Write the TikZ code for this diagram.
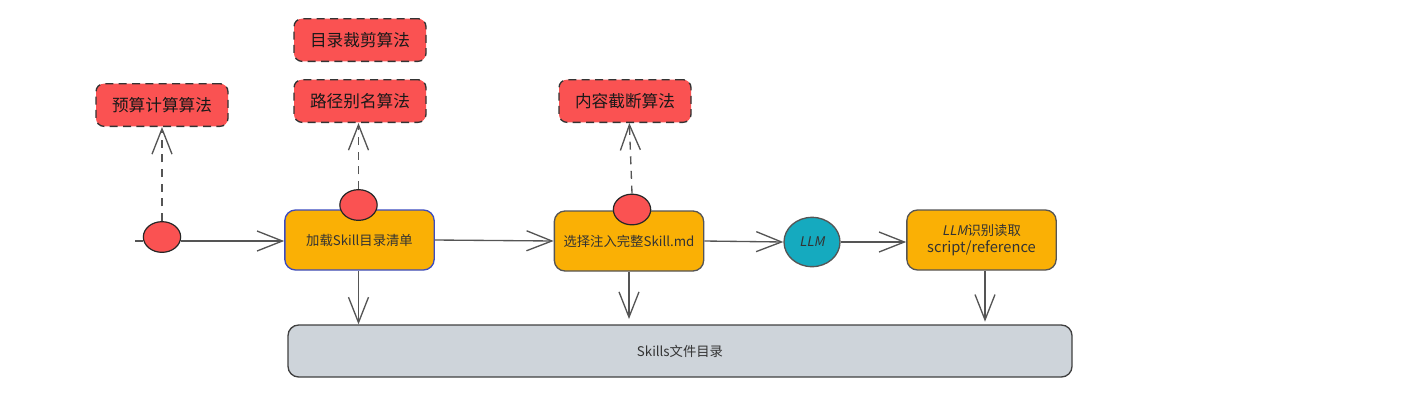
\documentclass[tikz,border=0pt]{standalone}
\usepackage{fontspec}
\setmainfont{Noto Sans CJK SC}
\newfontfamily\slantfont{Noto Sans CJK SC}[FakeSlant=0.2]
\usetikzlibrary{arrows.meta,shapes.geometric}
\definecolor{algred}{HTML}{FA5252}
\definecolor{boxorange}{HTML}{FAB005}
\definecolor{llmteal}{HTML}{15AABF}
\definecolor{bargray}{HTML}{CED4DA}
\definecolor{linegray}{HTML}{555555}
\definecolor{txt}{HTML}{333333}
\definecolor{bluebord}{HTML}{3B4CC0}
\tikzset{
  algbox/.style={draw=black!80, dash pattern=on 6pt off 4pt, line width=1pt, fill=algred, rounded corners=6pt,
    minimum width=99pt, minimum height=32pt, font=\fontsize{12.5}{14}\selectfont, text=black!90},
  stepbox/.style={draw=linegray, line width=1pt, fill=boxorange, rounded corners=8pt,
    minimum width=112pt, minimum height=45pt, font=\fontsize{10}{13}\selectfont, text=txt, align=center},
  dot/.style={ellipse, draw=black!85, line width=0.9pt, fill=algred, minimum width=28pt, minimum height=23pt, inner sep=0pt},
  flow/.style={draw=linegray, line width=1pt, -{Straight Barb[length=19pt,width=15pt,line width=1pt]}},
  dflow/.style={flow, dash pattern=on 6pt off 5pt},
}
\begin{document}
\begin{tikzpicture}[x=0.75pt,y=-0.75pt]
\useasboundingbox (0,0) rectangle (1412,397);
% algorithm boxes
\node[algbox] (budget) at (162,105) {预算计算算法};
\node[algbox] (crop) at (360,40) {目录裁剪算法};
\node[algbox] (alias) at (360,101) {路径别名算法};
\node[algbox] (trunc) at (625,101) {内容截断算法};
% step boxes
\node[stepbox, draw=bluebord] (load) at (359.5,240) {加载Skill目录清单};
\node[stepbox] (select) at (629,241) {选择注入完整Skill.md};
\node[ellipse, draw=linegray, line width=1pt, fill=llmteal, minimum width=42pt, minimum height=37pt, inner sep=0pt,
  font=\slantfont\fontsize{10}{12}\selectfont, text=txt] (llm) at (812,242) {LLM};
\node[stepbox] (read) at (981.5,240) {{\slantfont LLM}识别读取\\{\fontsize{11}{13}\selectfont script/reference}};
% bar
\node[draw=black!75, line width=1pt, fill=bargray, rounded corners=8pt, minimum width=588pt, minimum height=39pt,
  font=\fontsize{10}{12}\selectfont, text=txt] (dir) at (680,351) {Skills文件目录};
% dots
\node[dot] (d1) at (162,237) {};
\node[dot] (d2) at (358.5,205) {};
\node[dot] (d3) at (632,209.5) {};
\coordinate (start) at (135,241);
% flows
\draw[draw=linegray, line width=1pt] (start) -- (d1.west |- start);
\draw[flow] (d1.east |- start) -- (load.west |- start);
\draw[flow] (load.east) -- (select.west);
\draw[flow] (select.east) -- (llm.west);
\draw[flow] (llm.east) -- (read.west |- llm.east);
\draw[dflow] (d1.north) -- (budget.south);
\draw[dflow] (d2.north) -- (alias.south -| d2.north);
\draw[dflow] (d3.north) -- ([xshift=-2pt]trunc.south -| d3.north);
\draw[flow] (load.south -| d2.north) -- (dir.north -| d2.north);
\draw[flow] (select.south) -- ([yshift=4pt]dir.north -| select.south);
\draw[flow] (read.south -| 985,0) -- ([yshift=2pt]dir.north -| 985,0);
\end{tikzpicture}
\end{document}
